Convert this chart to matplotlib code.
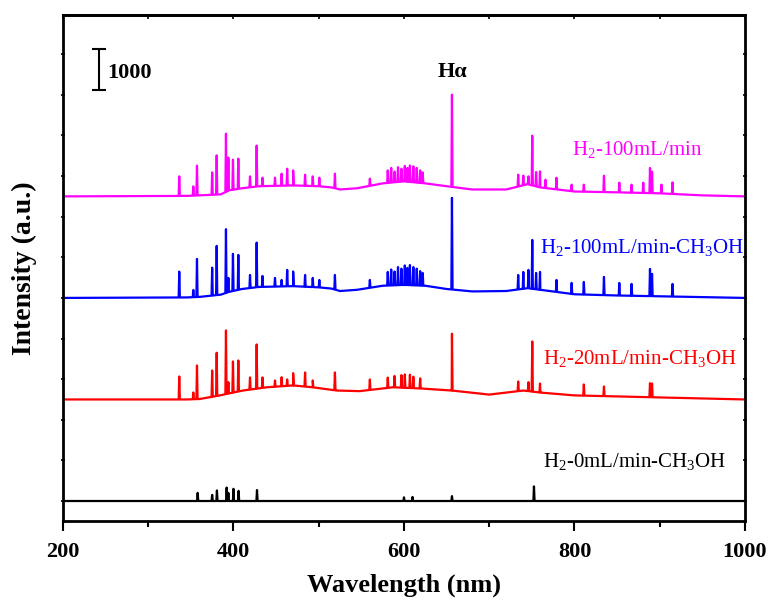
import numpy as np
import matplotlib.pyplot as plt

# baseline control points (counts above each trace's flat level)
mag_base_nm = [200, 345, 360, 385, 395, 410, 430, 470, 500, 515, 525, 545, 575, 600, 625, 650, 680, 720, 745, 760, 800, 850, 900, 950, 1000]
mag_base = [0, 12, 25, 50, 150, 200, 250, 270, 250, 220, 170, 200, 320, 370, 320, 250, 170, 170, 300, 220, 120, 100, 75, 25, 0]
blue_base_nm = [200, 345, 360, 385, 395, 410, 430, 470, 500, 515, 525, 545, 575, 600, 625, 650, 680, 720, 745, 760, 800, 850, 900, 950, 1000]
blue_base = [0, 12, 25, 80, 150, 220, 270, 290, 260, 230, 170, 200, 300, 320, 300, 220, 160, 170, 240, 200, 90, 60, 40, 20, 0]
red_base_nm = [200, 345, 360, 384, 411, 439, 470, 493, 521, 548, 587, 620, 656, 700, 740, 760, 800, 900, 1000]
red_base = [0, 0, 10, 100, 220, 300, 345, 300, 220, 205, 300, 270, 220, 120, 220, 170, 100, 50, 0]
blk_base_nm = [200, 1000]
blk_base = [0, 0]

# emission lines: wavelength (nm) and top (counts above flat level)
mag_pk_nm = [336.4, 352.9, 357.2, 375, 380.3, 391.2, 394, 399.4, 405.7, 419.4, 427.2, 434, 448.7, 456.5, 463, 470, 484, 493, 500.7, 519, 560,
             581, 585, 589, 593, 597, 601, 604, 607, 611, 615, 619, 622,
             656.3, 734, 740, 746, 750.5, 755, 759.6, 766, 778.9, 796.7, 811, 834.6, 852.6, 867, 880.7, 888.6, 891, 902, 915]
mag_pk = [493, 246, 756, 591, 1010, 1544, 953, 904, 929, 493, 1249, 460, 460, 559, 682, 640, 534, 493, 460, 559, 436,
          640, 700, 610, 720, 680, 750, 700, 760, 740, 700, 640, 590,
          2505, 534, 510, 493, 1495, 600, 616, 410, 460, 288, 288, 510, 337, 288, 337, 700, 608, 288, 345]
blue_pk_nm = [336.4, 352.9, 357.2, 375, 380.3, 391.2, 394, 399.4, 405.7, 419.4, 427.2, 434, 448.7, 456.5, 463, 470, 484, 493, 500.7, 519, 560,
              581, 585, 589, 593, 597, 601, 604, 607, 611, 615, 619, 622,
              656.3, 734, 740, 746, 750.5, 755, 759.6, 778.9, 796.7, 811, 834.6, 852.6, 867, 888.6, 891, 915]
blue_pk = [648, 197, 960, 746, 1281, 1692, 493, 1084, 1059, 566, 1362, 542, 493, 443, 690, 650, 566, 493, 443, 566, 443,
           640, 700, 650, 760, 720, 800, 740, 810, 760, 720, 660, 615,
           2463, 566, 640, 690, 1428, 616, 640, 443, 370, 394, 517, 370, 345, 714, 591, 345]
red_pk_nm = [336.4, 352.9, 357.2, 375, 380.3, 391.2, 394, 399.4, 405.7, 419.4, 427.2, 434, 448.7, 456.5, 463, 470, 484, 493, 519, 560,
             581, 589, 597, 601, 607, 611, 619,
             656.3, 734, 746, 750.5, 759.6, 811, 834.6, 888.6, 891]
red_pk = [566, 172, 837, 714, 1150, 1700, 426, 936, 960, 542, 1355, 542, 468, 549, 493, 648, 665, 468, 665, 493,
          540, 580, 600, 616, 610, 560, 520,
          1618, 443, 426, 1428, 394, 370, 320, 401, 394]
blk_pk_nm = [358, 375, 380.6, 392, 394, 400, 406, 427.6, 600, 610, 656.3, 752.5]
blk_pk = [200, 150, 260, 330, 200, 300, 250, 270, 90, 100, 120, 360]

offsets = [7500, 5000, 2500, 0]
colors = ['#FF00FF', '#0000FF', '#FF0000', '#000000']
labels = ['H$_{2}$-100mL/min', 'H$_{2}$-100mL/min-CH$_{3}$OH', 'H$_{2}$-20mL/min-CH$_{3}$OH', 'H$_{2}$-0mL/min-CH$_{3}$OH']
label_y = [8645, 6232, 3498, 961]
label_x = [873, 879, 877, 871]

plt.rcParams['font.family'] = 'Liberation Serif'
plt.rcParams['mathtext.fontset'] = 'custom'
plt.rcParams['mathtext.rm'] = 'Liberation Serif'
plt.rcParams['mathtext.it'] = 'Liberation Serif'

fig = plt.figure(figsize=(7.68, 6.01), dpi=100)
ax = fig.add_axes([0.082, 0.1336, 0.888, 0.8414])


def trace(bnm, bval, pnm, ptop):
    xs = list(bnm)
    ys = list(bval)
    for p, t in zip(pnm, ptop):
        for dx in (-0.7, 0.7):
            xs.append(p + dx)
            ys.append(float(np.interp(p + dx, bnm, bval)))
        xs.append(p)
        ys.append(max(t, float(np.interp(p, bnm, bval))))
    xs = np.array(xs)
    ys = np.array(ys)
    o = np.argsort(xs, kind='stable')
    return xs[o], ys[o]


series = [(mag_base_nm, mag_base, mag_pk_nm, mag_pk),
          (blue_base_nm, blue_base, blue_pk_nm, blue_pk),
          (red_base_nm, red_base, red_pk_nm, red_pk),
          (blk_base_nm, blk_base, blk_pk_nm, blk_pk)]

for (bnm, bval, pnm, ptop), off, c, lab, lx, ly in zip(series, offsets, colors, labels, label_x, label_y):
    x, y = trace(bnm, bval, pnm, ptop)
    ax.plot(x, y + off, color=c, lw=1.6)
    ax.text(lx, ly, lab, color=c, fontsize=15, ha='center', va='center')

# scale bar
ax.errorbar([242.2], [10628], yerr=500, color='black', capsize=5, elinewidth=1.5, capthick=1.5)
ax.text(251.6, 10542, '1000', fontsize=16, fontweight='bold', ha='left', va='center')
ax.text(657, 10566, 'Hα', fontsize=16, fontweight='bold', ha='center', va='center')

ax.set_xlim(200, 1000)
ax.set_ylim(-485, 11965)
ax.set_xticks([200, 400, 600, 800, 1000])
ax.set_xticks([300, 500, 700, 900], minor=True)
ax.set_yticks(np.arange(0, 12000, 1000))
ax.set_yticklabels([])
ax.tick_params(axis='x', which='major', direction='out', length=7, width=1.5, labelsize=16, pad=8)
ax.tick_params(axis='x', which='minor', direction='out', length=4, width=1.5)
ax.tick_params(axis='y', direction='inout', length=3, width=1.2, right=True)
for lbl in ax.get_xticklabels():
    lbl.set_fontweight('bold')
for s in ax.spines.values():
    s.set_linewidth(2)

top = ax.secondary_xaxis('top')
top.set_xticks([200, 300, 400, 500, 600, 700, 800, 900, 1000])
top.set_xticklabels([])
top.tick_params(direction='in', length=3, width=1.2)
top.spines['top'].set_linewidth(2)

ax.set_xlabel('Wavelength (nm)', fontsize=19, fontweight='bold', labelpad=9)
ax.set_ylabel('Intensity (a.u.)', fontsize=20, fontweight='bold', labelpad=14)

fig.savefig('out.png', dpi=100)
